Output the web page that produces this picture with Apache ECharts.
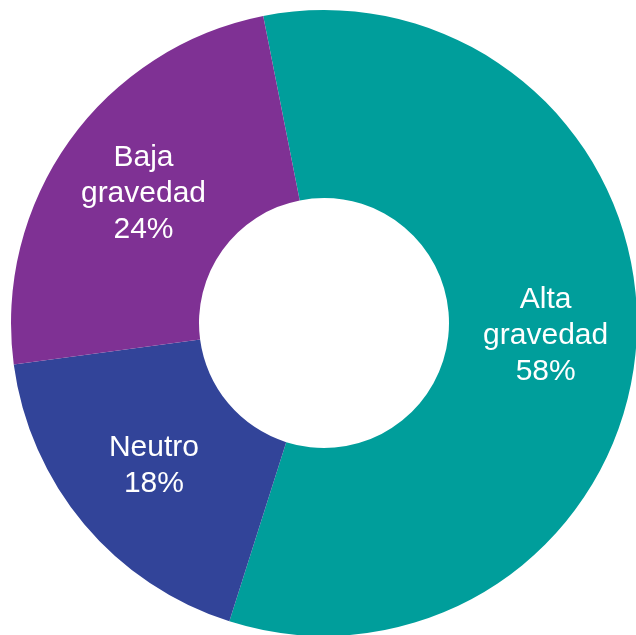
<!DOCTYPE html>
<html><head><meta charset="utf-8">
<script src="https://cdn.jsdelivr.net/npm/echarts@6/dist/echarts.min.js"></script>
<style>html,body{margin:0;padding:0;background:#fff}#c{width:636px;height:635px}</style>
</head><body><div id="c"></div>
<script>
const categories = ['Alta\ngravedad', 'Neutro', 'Baja\ngravedad'];
const values = [58, 18, 24];
const colors = ['#009E9B', '#324499', '#7F3194'];
const chart = echarts.init(document.getElementById('c'), null, {renderer: 'canvas'});
chart.setOption({
  animation: false,
  series: [{
    type: 'pie',
    center: [324, 323],
    radius: [125, 313],
    startAngle: 101.2,
    clockwise: true,
    avoidLabelOverlap: false,
    data: categories.map((n, i) => ({name: n, value: values[i], itemStyle: {color: colors[i]}})),
    label: {
      position: 'inside',
      formatter: p => p.name + '\n' + p.value + '%',
      color: '#fff',
      fontFamily: 'Liberation Sans, Arial, sans-serif',
      fontSize: 30,
      lineHeight: 36,
      align: 'center'
    },
    labelLine: {show: false},
    itemStyle: {borderWidth: 0},
    emphasis: {disabled: true}
  }]
});
</script></body></html>
